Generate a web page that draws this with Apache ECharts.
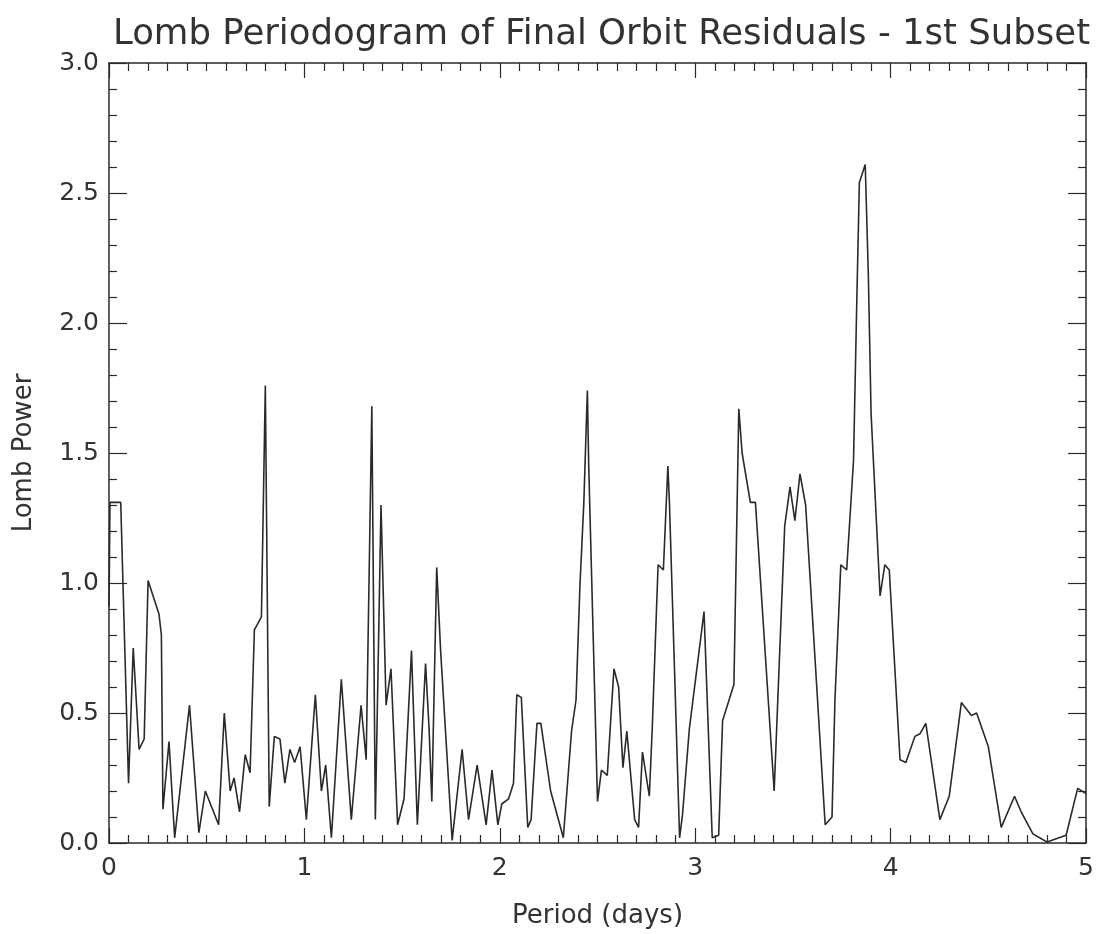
<!DOCTYPE html>
<html>
<head>
<meta charset="utf-8">
<script src="https://cdn.jsdelivr.net/npm/echarts@6/dist/echarts.min.js"></script>
<style>
html,body{margin:0;padding:0;background:#fff;}
#chart{width:1097px;height:934px;}
</style>
</head>
<body>
<div id="chart"></div>
<script>
// Data
var periods = [
0.000,0.005,0.060,0.100,0.124,0.154,0.180,0.200,0.256,0.268,0.276,0.307,0.336,0.412,0.460,0.493,0.561,0.590,0.620,0.640,
0.668,0.697,0.722,0.744,0.780,0.800,0.820,0.846,0.875,0.900,0.926,0.950,0.978,1.010,1.056,1.087,1.109,1.138,1.189,1.240,
1.290,1.316,1.345,1.363,1.392,1.418,1.443,1.477,1.510,1.548,1.578,1.620,1.638,1.652,1.677,1.697,1.756,1.807,1.840,1.884,
1.930,1.960,1.990,2.010,2.045,2.070,2.087,2.110,2.143,2.160,2.190,2.210,2.260,2.325,2.367,2.390,2.410,2.430,2.448,2.455,
2.500,2.520,2.550,2.584,2.608,2.630,2.650,2.690,2.710,2.730,2.765,2.780,2.810,2.837,2.860,2.868,2.920,2.935,2.970,3.045,
3.087,3.120,3.140,3.198,3.223,3.240,3.282,3.308,3.404,3.458,3.485,3.510,3.536,3.565,3.665,3.700,3.715,3.745,3.775,3.810,
3.827,3.840,3.870,3.886,3.900,3.946,3.970,3.993,4.048,4.078,4.124,4.150,4.180,4.252,4.300,4.362,4.413,4.440,4.500,4.566,
4.634,4.668,4.728,4.800,4.898,4.957,5.000
];
var power = [
0.91,1.31,1.31,0.23,0.75,0.36,0.40,1.01,0.88,0.80,0.13,0.39,0.02,0.53,0.04,0.20,0.07,0.50,0.20,0.25,
0.12,0.34,0.27,0.82,0.87,1.76,0.14,0.41,0.40,0.23,0.36,0.31,0.37,0.09,0.57,0.20,0.30,0.02,0.63,0.09,
0.53,0.32,1.68,0.09,1.30,0.53,0.67,0.07,0.17,0.74,0.07,0.69,0.44,0.16,1.06,0.74,0.01,0.36,0.09,0.30,
0.07,0.28,0.07,0.15,0.17,0.23,0.57,0.56,0.06,0.09,0.46,0.46,0.20,0.02,0.43,0.55,0.99,1.31,1.74,1.45,
0.16,0.28,0.26,0.67,0.60,0.29,0.43,0.09,0.06,0.35,0.18,0.44,1.07,1.05,1.45,1.31,0.02,0.11,0.44,0.89,
0.02,0.03,0.47,0.61,1.67,1.50,1.31,1.31,0.20,1.22,1.37,1.24,1.42,1.30,0.07,0.10,0.55,1.07,1.05,1.47,
2.09,2.54,2.61,2.18,1.65,0.95,1.07,1.05,0.32,0.31,0.41,0.42,0.46,0.09,0.18,0.54,0.49,0.50,0.37,0.06,
0.18,0.12,0.035,0.004,0.03,0.21,0.19
];
var xTicks = [0,1,2,3,4,5];
var yTicks = ['0.0','0.5','1.0','1.5','2.0','2.5','3.0'];
var titleText = 'Lomb Periodogram of Final Orbit Residuals - 1st Subset';
var xName = 'Period (days)';
var yName = 'Lomb Power';

var FONT = "'DejaVu Sans','Liberation Sans',sans-serif";
var INK = '#2a2a2a';
var TXT = '#333';
var series = periods.map(function(p,i){return [p,power[i]];});

var chart = echarts.init(document.getElementById('chart'));
function xAx(pos, labels){
  return {
    type:'value', position:pos, min:0, max:5, interval:1,
    name: labels ? xName : '', nameLocation:'middle', nameGap:60,
    nameTextStyle:{fontFamily:FONT,fontSize:26,color:TXT},
    axisLine:{show:true,onZero:false,lineStyle:{color:INK,width:1.5}},
    axisTick:{show:true,inside:true,length:15,lineStyle:{color:INK,width:1.2}},
    minorTick:{show:true,splitNumber:10,length:8,lineStyle:{color:INK,width:1.2}},
    axisLabel:{show:labels,margin:13,fontFamily:FONT,fontSize:25,color:TXT,
      formatter:function(v){return xTicks.indexOf(v)>=0? String(v):'';}},
    splitLine:{show:false}
  };
}
function yAx(pos, labels){
  return {
    type:'value', position:pos, min:0, max:3, interval:0.5,
    name: labels ? yName : '', nameLocation:'middle', nameGap:72,
    nameTextStyle:{fontFamily:FONT,fontSize:26,color:TXT},
    axisLine:{show:true,onZero:false,lineStyle:{color:INK,width:1.5}},
    axisTick:{show:true,inside:true,length:18,lineStyle:{color:INK,width:1.2}},
    minorTick:{show:true,splitNumber:5,length:8,lineStyle:{color:INK,width:1.2}},
    axisLabel:{show:labels,margin:10,fontFamily:FONT,fontSize:25,color:TXT,
      formatter:function(v){return yTicks[Math.round(v/0.5)];}},
    splitLine:{show:false}
  };
}
chart.setOption({
  animation:false,
  backgroundColor:'#fff',
  title:{text:titleText,left:108,top:12,
    textStyle:{fontFamily:FONT,fontSize:35.5,fontWeight:'normal',color:TXT}},
  grid:{left:109,right:8,top:63,bottom:88,containLabel:false},
  xAxis:[xAx('bottom',true),xAx('top',false)],
  yAxis:[yAx('left',true),yAx('right',false)],
  series:[{type:'line',xAxisIndex:0,yAxisIndex:0,data:series,showSymbol:false,
    lineStyle:{color:INK,width:1.6},clip:true}]
});
</script>
</body>
</html>
